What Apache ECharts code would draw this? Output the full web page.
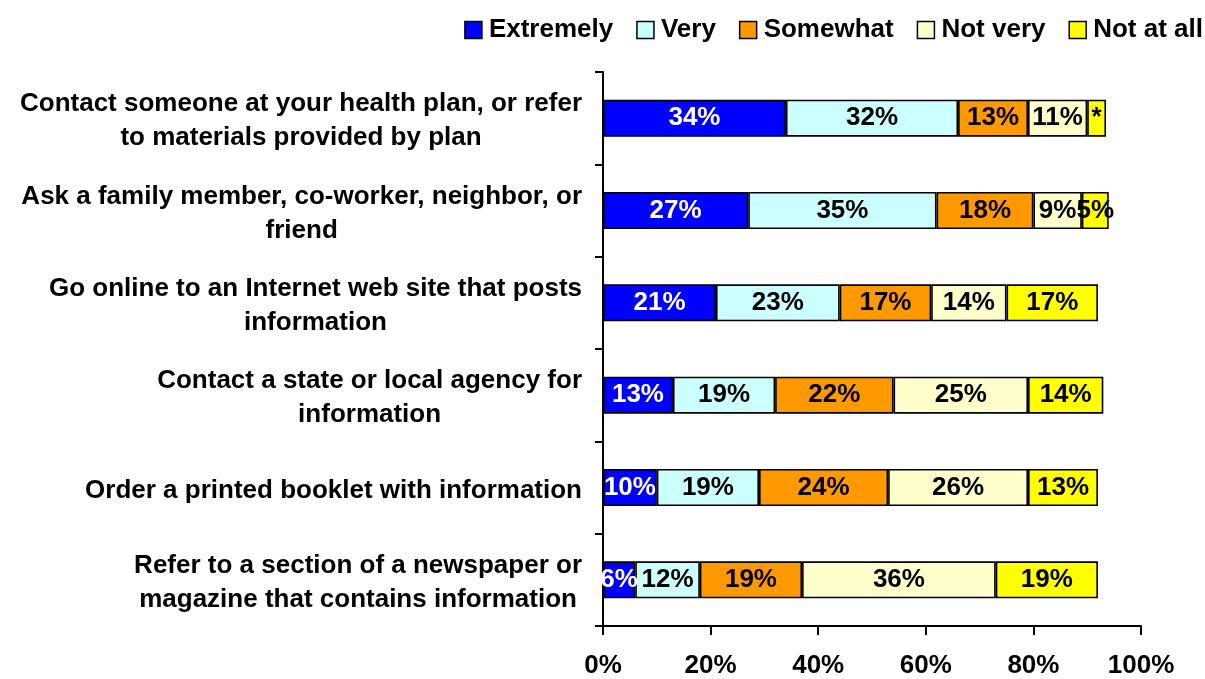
<!DOCTYPE html>
<html>
<head>
<meta charset="utf-8">
<script src="https://cdn.jsdelivr.net/npm/echarts@6/dist/echarts.min.js"></script>
<style>
  html, body { margin: 0; padding: 0; background: #fff; }
  #chart { width: 1205px; height: 679px; }
</style>
</head>
<body>
<div id="chart"></div>
<script>
// Survey answers: how likely respondents are to use each information source
const categories = [
  'Contact someone at your health plan, or refer\nto materials provided by plan',
  'Ask a family member, co-worker, neighbor, or\nfriend',
  'Go online to an Internet web site that posts\ninformation',
  'Contact a state or local agency for\ninformation',
  'Order a printed booklet with information',
  'Refer to a section of a newspaper or\nmagazine that contains information'
];
const seriesNames = ['Extremely', 'Very', 'Somewhat', 'Not very', 'Not at all'];
const extremely = [34, 27, 21, 13, 10, 6];
const very      = [32, 35, 23, 19, 19, 12];
const somewhat  = [13, 18, 17, 22, 24, 19];
const notVery   = [11, 9, 14, 25, 26, 36];
const notAtAll  = [3.5, 5, 17, 14, 13, 19];
// "*" marks a share too small to report as a whole percent
const notAtAllLabels = ['*', '5%', '17%', '14%', '13%', '19%'];
const xTicks = [0, 20, 40, 60, 80, 100];

const seriesValues = [extremely, very, somewhat, notVery, notAtAll];
const colors = ['#0000FF', '#CCFFFF', '#FF9900', '#FFFFCC', '#FFFF00'];
const FONT = 'Liberation Sans, Arial, sans-serif';
const FS = 26;

const chart = echarts.init(document.getElementById('chart'), null, { renderer: 'canvas' });

const series = seriesNames.map((name, si) => ({
  name: name,
  type: 'bar',
  stack: 'total',
  barWidth: 37,
  data: seriesValues[si],
  itemStyle: { color: colors[si], borderColor: '#000', borderWidth: 1.6 },
  label: {
    show: true,
    position: 'inside',
    color: si === 0 ? '#fff' : '#000',
    fontFamily: FONT,
    fontWeight: 'bold',
    fontSize: FS,
    padding: [3, 0, 0, 0],
    formatter: p => si === 4 ? notAtAllLabels[p.dataIndex] : p.value + '%'
  },
  emphasis: { disabled: true }
}));

chart.setOption({
  animation: false,
  backgroundColor: '#fff',
  legend: {
    data: seriesNames,
    right: -3,
    top: 12,
    itemWidth: 17,
    itemHeight: 17,
    itemGap: 23,
    icon: 'rect',
    itemStyle: { borderColor: '#000', borderWidth: 1.5 },
    textStyle: { fontFamily: FONT, fontWeight: 'bold', fontSize: FS, color: '#000', padding: [0, 0, 0, 2] }
  },
  grid: { left: 603, right: 64, top: 72, bottom: 52, containLabel: false },
  xAxis: {
    type: 'value',
    min: xTicks[0],
    max: xTicks[xTicks.length - 1],
    interval: 20,
    axisLine: { show: true, lineStyle: { color: '#000', width: 2 } },
    axisTick: { show: true, length: 9, lineStyle: { color: '#000', width: 2 } },
    splitLine: { show: false },
    axisLabel: {
      color: '#000', fontFamily: FONT, fontWeight: 'bold', fontSize: FS, margin: 27,
      formatter: '{value}%'
    }
  },
  yAxis: {
    type: 'category',
    inverse: true,
    data: categories,
    axisLine: { show: true, lineStyle: { color: '#000', width: 2 } },
    axisTick: { show: true, length: 8, lineStyle: { color: '#000', width: 2 } },
    splitLine: { show: false },
    axisLabel: {
      margin: 21,
      color: '#000',
      fontFamily: FONT,
      fontWeight: 'bold',
      fontSize: FS,
      lineHeight: 34,
      padding: [6, 0, 0, 0],
      formatter: v => v.split('\n').map(s => '{c|' + s + '}').join('\n'),
      rich: {
        c: { align: 'center', fontFamily: FONT, fontWeight: 'bold', fontSize: FS, lineHeight: 34, color: '#000' }
      }
    }
  },
  series: series
});
</script>
</body>
</html>
